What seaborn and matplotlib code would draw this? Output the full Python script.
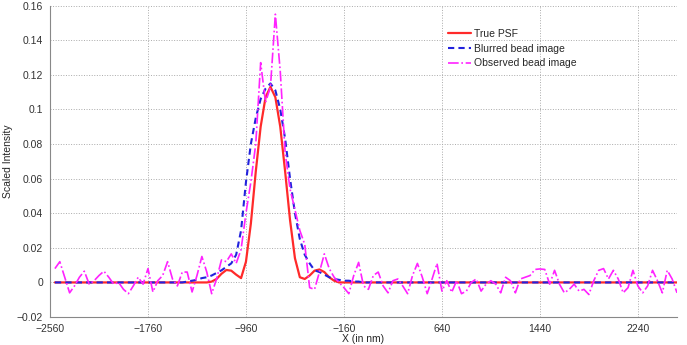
import numpy as np
import pandas as pd
import matplotlib
matplotlib.use("Agg")
import matplotlib.pyplot as plt
import seaborn as sns

# sample positions (nm), 40 nm step
x_nm = np.arange(-2520, 2561, 40)

true_psf = [
    0, 0, 0, 0, 0, 0, 0, 0,                                          # -2520
    0, 0, 0, 0, 0, 0, 0, 0,                                          # -2200
    0, 0, 0, 0, 0, 0, 0, 0,                                          # -1880
    0, 0, 0, 0, 0, 0, 0, 0,                                          # -1560
    0.0005, 0.002, 0.005, 0.0072, 0.0068, 0.0045, 0.0025, 0.012,     # -1240
    0.034, 0.064, 0.090, 0.107, 0.113, 0.107, 0.090, 0.064,          # -920
    0.036, 0.014, 0.003, 0.002, 0.004, 0.0068, 0.0075, 0.006,        # -600
    0.003, 0.001, 0, 0, 0, 0, 0, 0,                                  # -280
    0, 0, 0, 0, 0, 0, 0, 0,                                          # 40
    0, 0, 0, 0, 0, 0, 0, 0,                                          # 360
    0, 0, 0, 0, 0, 0, 0, 0,                                          # 680
    0, 0, 0, 0, 0, 0, 0, 0,                                          # 1000
    0, 0, 0, 0, 0, 0, 0, 0,                                          # 1320
    0, 0, 0, 0, 0, 0, 0, 0,                                          # 1640
    0, 0, 0, 0, 0, 0, 0, 0,                                          # 1960
    0, 0, 0, 0, 0, 0, 0, 0,                                          # 2280
]

blurred = [
    0, 0, 0, 0, 0, 0, 0, 0,                                          # -2520
    0, 0, 0, 0, 0, 0, 0, 0,                                          # -2200
    0, 0, 0, 0, 0, 0, 0, 0,                                          # -1880
    0, 0, 0, 0.0005, 0.001, 0.0015, 0.0025, 0.003,                   # -1560
    0.004, 0.0055, 0.007, 0.009, 0.011, 0.016, 0.030, 0.058,         # -1240
    0.080, 0.095, 0.106, 0.112, 0.115, 0.111, 0.100, 0.083,          # -920
    0.060, 0.040, 0.025, 0.016, 0.011, 0.007, 0.006, 0.0045,         # -600
    0.003, 0.002, 0.0015, 0.001, 0.001, 0.0005, 0.0005, 0,           # -280
    0, 0, 0, 0, 0, 0, 0, 0,                                          # 40
    0, 0, 0, 0, 0, 0, 0, 0,                                          # 360
    0, 0, 0, 0, 0, 0, 0, 0,                                          # 680
    0, 0, 0, 0, 0, 0, 0, 0,                                          # 1000
    0, 0, 0, 0, 0, 0, 0, 0,                                          # 1320
    0, 0, 0, 0, 0, 0, 0, 0,                                          # 1640
    0, 0, 0, 0, 0, 0, 0, 0,                                          # 1960
    0, 0, 0, 0, 0, 0, 0, 0,                                          # 2280
]

observed = [
    0.008, 0.012, 0.003, -0.006, -0.002, 0.003, 0.0065, -0.001,      # -2520
    0.001, 0.004, 0.0065, 0.003, -0.001, 0.000, -0.004, -0.0065,     # -2200
    -0.002, 0.003, -0.001, 0.008, -0.0055, 0.001, 0.004, 0.012,      # -1880
    0.002, -0.002, 0.006, 0.006, -0.0055, 0.004, 0.015, 0.006,       # -1560
    -0.0065, 0.002, 0.013, 0.012, 0.0165, 0.011, 0.019, 0.040,       # -1240
    0.058, 0.080, 0.127, 0.104, 0.113, 0.155, 0.122, 0.075,          # -920
    0.054, 0.042, 0.030, 0.022, -0.003, -0.004, 0.006, 0.0165,       # -600
    0.008, 0.003, 0.000, -0.003, -0.0065, 0.004, 0.0116, -0.002,     # -280
    -0.004, 0.004, 0.006, -0.002, -0.006, 0.001, 0.002, -0.002,      # 40
    -0.0065, 0.004, 0.011, 0.003, -0.0065, 0.002, 0.011, -0.005,     # 360
    0.001, -0.0057, 0.001, -0.0065, -0.005, 0.000, 0.002, -0.005,    # 680
    -0.001, 0.001, -0.001, -0.006, 0.003, 0.001, -0.006, 0.002,      # 1000
    0.003, 0.004, 0.0075, 0.0078, 0.0075, -0.001, 0.007, -0.001,     # 1320
    -0.006, -0.004, -0.001, -0.005, -0.004, -0.007, 0.001, 0.007,    # 1640
    0.008, 0.002, 0.007, 0.002, -0.006, -0.003, 0.007, -0.002,       # 1960
    -0.006, -0.002, 0.007, 0.001, -0.006, 0.007, 0.002, -0.006,      # 2280
]

x_ticks = [-2560, -1760, -960, -160, 640, 1440, 2240]
y_ticks = [-0.02, 0, 0.02, 0.04, 0.06, 0.08, 0.1, 0.12, 0.14, 0.16]
y_tick_labels = ["\u22120.02", "0", "0.02", "0.04", "0.06", "0.08", "0.1", "0.12", "0.14", "0.16"]

if __name__ == "__main__":
    sns.set_style("white")
    plt.rcParams["font.family"] = ["Liberation Sans", "DejaVu Sans"]

    df = pd.DataFrame({"x": x_nm, "true": true_psf, "blur": blurred, "obs": observed})

    fig = plt.figure(figsize=(6.87, 3.45), dpi=100)
    ax = fig.add_axes([0.0728, 0.081, 0.9127, 0.903])

    sns.lineplot(data=df, x="x", y="true", ax=ax, color="#ff2a2a", lw=1.6,
                 label="True PSF")
    sns.lineplot(data=df, x="x", y="blur", ax=ax, color="#2222dd", lw=1.5,
                 linestyle=(0, (3, 2)), label="Blurred bead image")
    sns.lineplot(data=df, x="x", y="obs", ax=ax, color="#ff22ff", lw=1.2,
                 linestyle="-.", label="Observed bead image")

    ax.set_xlim(-2560, 2560)
    ax.set_ylim(-0.02, 0.16)
    ax.set_xticks(x_ticks)
    ax.set_xticklabels([str(t).replace("-", "\u2212") for t in x_ticks])
    ax.set_yticks(y_ticks)
    ax.set_yticklabels(y_tick_labels)
    ax.tick_params(labelsize=7.5, colors="#333333", length=3, direction="out",
                   width=0.6, pad=2)

    ax.grid(True, linestyle=":", color="#aaaaaa", linewidth=0.7)
    for side in ["top", "right"]:
        ax.spines[side].set_visible(False)
    for side in ["left", "bottom"]:
        ax.spines[side].set_color("#888888")
        ax.spines[side].set_linewidth(0.8)

    ax.set_xlabel("X (in nm)", fontsize=7.5, labelpad=0)
    ax.set_ylabel("Scaled Intensity", fontsize=7.5, labelpad=3)

    leg = ax.legend(loc="upper left", bbox_to_anchor=(0.62, 0.955), frameon=False,
                    fontsize=7.5, handlelength=2.2, handletextpad=0.3,
                    labelspacing=0.45)

    fig.savefig("out.png", dpi=100)
